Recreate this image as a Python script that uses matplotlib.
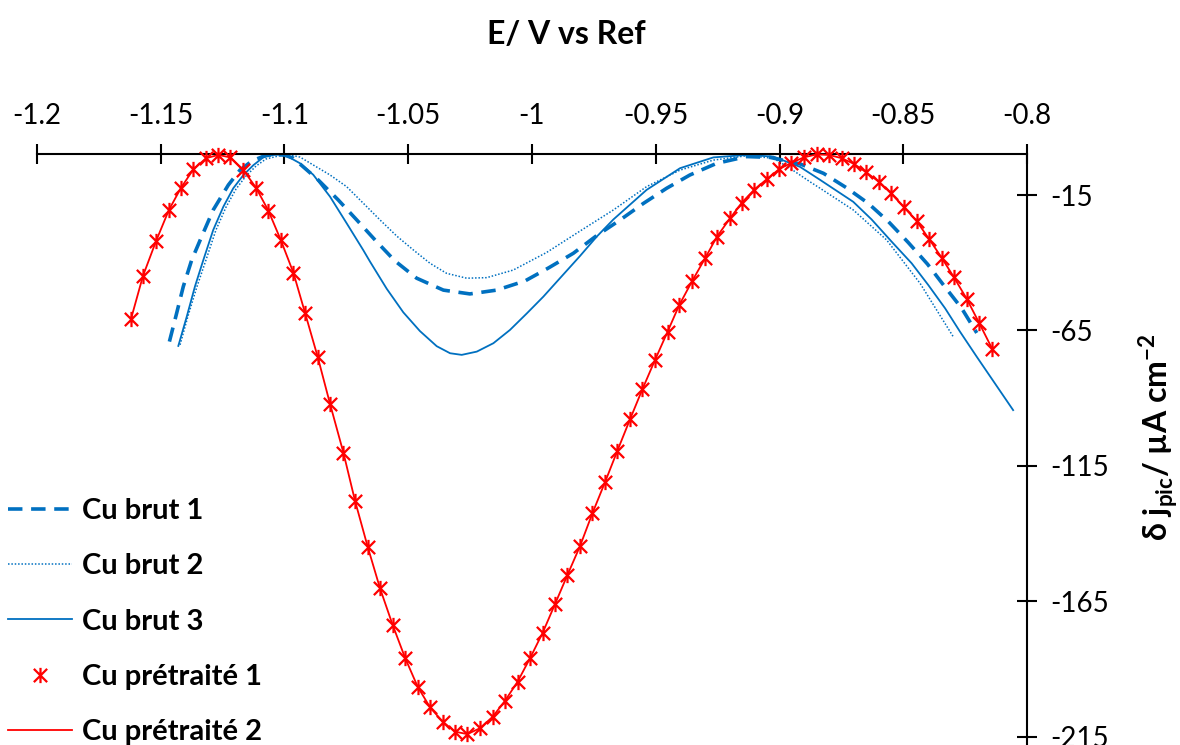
import numpy as np
import matplotlib
matplotlib.use("Agg")
import matplotlib.pyplot as plt
from matplotlib.path import Path

plt.rcParams['font.family'] = ['Lato', 'DejaVu Sans']
plt.rcParams['mathtext.fontset'] = 'custom'
plt.rcParams['mathtext.rm'] = 'Lato'
plt.rcParams['mathtext.bf'] = 'Lato:bold'
plt.rcParams['axes.unicode_minus'] = False

# values
brut1_x = [-1.1465, -1.1436, -1.1409, -1.1375, -1.1335, -1.1288, -1.1227, -1.1180, -1.1131, -1.1072,
           -1.1002, -1.0964, -1.0863, -1.0783, -1.0708, -1.0634, -1.0554, -1.0466, -1.0358, -1.0251,
           -1.0143, -1.0028, -0.9935, -0.9833, -0.9739, -0.9644, -0.9550, -0.9456, -0.9362, -0.9254,
           -0.9133, -0.9038, -0.8917, -0.8822, -0.8728, -0.8641, -0.8560, -0.8480, -0.8402, -0.8335,
           -0.8264, -0.8203]
brut1_y = [-69.1, -58.7, -48.8, -39.0, -30.4, -20.5, -11.3, -5.8, -2.4, -0.2,
           -0.2, -1.4, -9.5, -16.8, -24.2, -31.6, -39.3, -45.7, -50.1, -51.5,
           -50.1, -46.7, -42.0, -36.5, -30.0, -24.2, -18.1, -12.5, -7.6, -3.3,
           -0.8, -1.1, -3.5, -7.0, -12.4, -18.1, -24.8, -32.5, -40.5, -48.5,
           -56.8, -65.9]

brut2_x = [-1.1422, -1.1390, -1.1354, -1.1317, -1.1277, -1.1236, -1.1196, -1.1156, -1.1115, -1.1075,
           -1.1026, -1.0978, -1.0937, -1.0884, -1.0816, -1.0749, -1.0683, -1.0614, -1.0547, -1.0479,
           -1.0412, -1.0345, -1.0264, -1.0183, -1.0076, -0.9941, -0.9806, -0.9671, -0.9537, -0.9402,
           -0.9267, -0.9133, -0.9025, -0.8958, -0.8877, -0.8836, -0.8702, -0.8567, -0.8432, -0.8298]
brut2_y = [-70.3, -59.7, -48.9, -38.9, -27.9, -19.4, -12.8, -8.0, -4.3, -1.7,
           -0.6, -0.2, -1.0, -3.9, -7.6, -11.9, -17.9, -24.2, -30.1, -35.3,
           -40.2, -43.9, -45.7, -45.5, -42.7, -36.2, -28.3, -20.5, -11.9, -5.8,
           -2.1, -0.5, -1.4, -5.1, -10.1, -12.5, -20.5, -31.6, -47.6, -67.3]

brut3_x = [-1.1429, -1.1395, -1.1362, -1.1328, -1.1288, -1.1247, -1.1207, -1.1166, -1.1126, -1.1086,
           -1.1045, -1.1002, -1.0937, -1.0884, -1.0816, -1.0749, -1.0682, -1.0655, -1.0587, -1.0520,
           -1.0453, -1.0385, -1.0331, -1.0284, -1.0223, -1.0156, -1.0089, -1.0021, -0.9954, -0.9887,
           -0.9806, -0.9739, -0.9671, -0.9537, -0.9402, -0.9267, -0.9133, -0.9025, -0.8917, -0.8836,
           -0.8702, -0.8628, -0.8547, -0.8466, -0.8399, -0.8331, -0.8271, -0.8203, -0.8056]
brut3_y = [-70.7, -59.9, -48.8, -39.0, -27.9, -19.3, -12.5, -7.6, -4.0, -1.1,
           -0.2, 0.0, -3.3, -7.5, -15.6, -25.4, -35.3, -39.5, -49.6, -58.3,
           -65.2, -70.8, -73.4, -74.0, -72.8, -69.7, -64.8, -58.7, -52.5, -45.7,
           -37.5, -30.4, -24.0, -13.1, -5.1, -1.1, -0.2, -0.8, -4.6, -9.4,
           -17.5, -24.0, -32.2, -40.2, -48.2, -56.8, -65.4, -74.7, -94.4]

pretraite_x = [-1.1620, -1.1572, -1.1519, -1.1467, -1.1418, -1.1368, -1.1317, -1.1267, -1.1220, -1.1166,
               -1.1115, -1.1065, -1.1015, -1.0964, -1.0917, -1.0866, -1.0816, -1.0762, -1.0715, -1.0664,
               -1.0614, -1.0563, -1.0513, -1.0462, -1.0412, -1.0361, -1.0311, -1.0261, -1.0210, -1.0159,
               -1.0109, -1.0058, -1.0008, -0.9957, -0.9907, -0.9857, -0.9806, -0.9756, -0.9705, -0.9655,
               -0.9604, -0.9554, -0.9503, -0.9452, -0.9405, -0.9352, -0.9301, -0.9253, -0.9200, -0.9152,
               -0.9102, -0.9052, -0.9001, -0.8952, -0.8902, -0.8850, -0.8800, -0.8749, -0.8699, -0.8650,
               -0.8598, -0.8549, -0.8497, -0.8446, -0.8396, -0.8345, -0.8295, -0.8243, -0.8194, -0.8141]
pretraite1_y = [-60.7, -44.9, -32.0, -20.5, -12.3, -5.5, -1.4, -0.2, -1.1, -5.8,
                -12.3, -20.8, -31.6, -43.7, -58.5, -74.7, -92.1, -110.1, -127.9, -144.8,
                -160.2, -173.7, -185.8, -196.5, -204.1, -209.4, -213.1, -214.0, -211.8, -207.6,
                -201.7, -194.6, -186.0, -176.6, -166.0, -155.3, -144.6, -132.5, -121.0, -109.4,
                -97.8, -86.7, -75.9, -65.4, -55.6, -46.6, -38.4, -30.4, -23.6, -17.8,
                -13.0, -9.2, -5.4, -3.1, -1.1, 0.0, -0.2, -1.4, -3.5, -6.6,
                -10.1, -14.4, -19.5, -24.6, -31.2, -38.1, -45.4, -53.4, -62.1, -71.7]
pretraite2_y = list(pretraite1_y)

xticks = [-1.2, -1.15, -1.1, -1.05, -1.0, -0.95, -0.9, -0.85, -0.8]
xtick_labels = ['-1.2', '-1.15', '-1.1', '-1.05', '-1', '-0.95', '-0.9', '-0.85', '-0.8']
yticks = [-15, -65, -115, -165, -215]
ytick_labels = ['-15', '-65', '-115', '-165', '-215']

blue = '#0070C0'
red = '#FF0000'

# asterisk like excel: X plus vertical bar
star = Path([(-1, -1), (1, 1), (-1, 1), (1, -1), (0, -1.15), (0, 1.15)],
            [Path.MOVETO, Path.LINETO, Path.MOVETO, Path.LINETO, Path.MOVETO, Path.LINETO])

fig = plt.figure(figsize=(11.8, 7.45), dpi=100)
ax = fig.add_axes([37 / 1180, 1.4 / 745, 990 / 1180, 589.2 / 745])

ax.plot(brut1_x, brut1_y, color=blue, lw=2.6, ls=(0, (4.0, 2.4)), label='Cu brut 1', clip_on=False)
ax.plot(brut2_x, brut2_y, color=blue, lw=1.1, ls=(0, (1, 1.2)), label='Cu brut 2', clip_on=False)
ax.plot(brut3_x, brut3_y, color=blue, lw=1.3, label='Cu brut 3', clip_on=False)
ax.plot(pretraite_x, pretraite1_y, ls='none', marker=star, ms=11, mec=red, mfc='none', mew=1.6,
        label='Cu prétraité 1', clip_on=False, zorder=4)
ax.plot(pretraite_x, pretraite2_y, color=red, lw=1.3, label='Cu prétraité 2', clip_on=False, zorder=3)

ax.set_xlim(-1.2, -0.8)
ax.set_ylim(-217.5, 0)

for s in ['left', 'bottom']:
    ax.spines[s].set_visible(False)
for s in ['top', 'right']:
    ax.spines[s].set_linewidth(1.5)

ax.xaxis.tick_top()
ax.yaxis.tick_right()
ax.set_xticks(xticks)
ax.set_xticklabels(xtick_labels)
ax.set_yticks(yticks)
ax.set_yticklabels(ytick_labels)
ax.tick_params(axis='both', direction='inout', length=15, width=1.5, labelsize=20, colors='black')
ax.tick_params(axis='x', pad=11)
ax.tick_params(axis='y', pad=9)

fig.text(566 / 1180, 1 - 35 / 745, 'E/ V vs Ref', ha='center', va='center',
         fontsize=23, fontweight='bold')
fig.text(1158 / 1180, 1 - 437 / 745, r'δ j$_\mathbf{pic}$/ µA cm$^\mathbf{-2}$', ha='center', va='center',
         rotation=90, fontsize=23, fontweight='bold')

leg = fig.legend(loc='lower left', bbox_to_anchor=(8 / 1180, 0 / 745), frameon=False,
                 prop={'weight': 'bold', 'size': 21}, handlelength=2.2, handletextpad=0.35,
                 labelspacing=1.0, borderpad=0, borderaxespad=0)

fig.savefig('out.png', dpi=100)
